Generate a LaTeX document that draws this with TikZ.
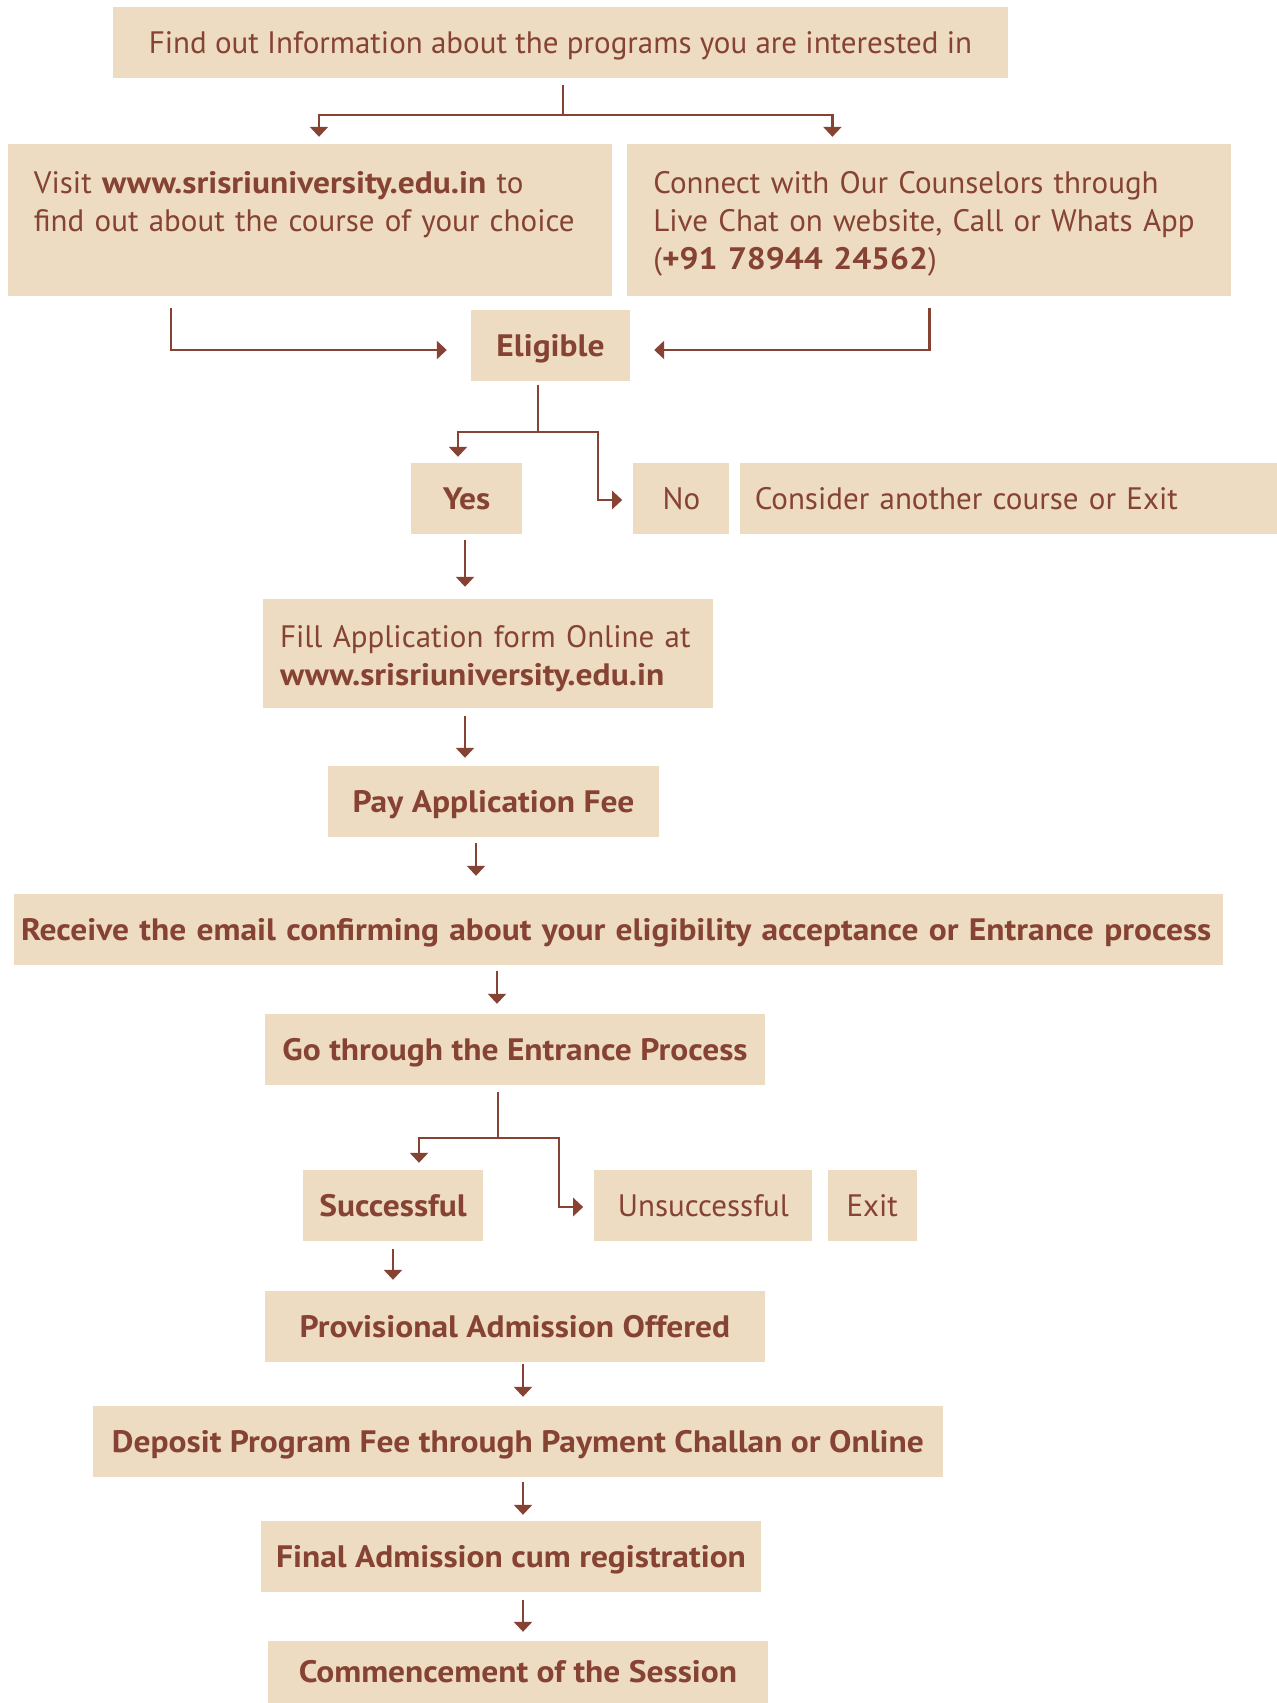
\documentclass[tikz,border=0pt]{standalone}
\usepackage{fontspec}
\setmainfont{PT Sans}[BoldFeatures={FakeStretch=1.08}]
\usepackage{xcolor}
\usetikzlibrary{arrows.meta,positioning}
\definecolor{boxfill}{HTML}{EDDCC2}
\definecolor{boxtext}{HTML}{864232}

\begin{document}
\begin{tikzpicture}[x=1pt,y=-1pt,
    box/.style={fill=boxfill,text=boxtext,inner sep=0pt,minimum height=71pt,
      text height=21.7pt,text depth=0pt,font=\fontsize{31}{38}\selectfont},
    bbox/.style={box,font=\fontsize{31}{38}\selectfont\bfseries},
    arr/.style={draw=boxtext,line width=2.5pt,-{Triangle[width=18pt,length=10pt]}},
  ]
  \useasboundingbox (0,0) rectangle (1277,1703);

  % boxes
  \node[box,minimum width=895pt] (top) at (560.5,42.5)
    {Find out Information about the programs you are interested in};
  \node[box,minimum width=604pt,minimum height=152pt,text width=552pt,
    inner xsep=26pt,align=left,text depth=75.7pt] (visit) at (310,220)
    {Visit \textbf{www.srisriuniversity.edu.in} to\\find out about the course of your choice};
  \node[box,minimum width=604pt,minimum height=152pt,text width=552pt,
    inner xsep=26pt,align=left,text depth=75.7pt,right=15pt of visit] (connect)
    {Connect with Our Counselors through\\Live Chat on website, Call or Whats App\\(\textbf{+91 78944 24562})};
  \node[bbox,minimum width=159pt] (elig) at (550.5,345.5) {Eligible};
  \node[bbox,minimum width=111pt] (yes) at (466.5,498.5) {Yes};
  \node[box,minimum width=96pt,right=111pt of yes] (no) {No};
  \node[box,minimum width=538pt,text width=508pt,inner xsep=15pt,align=left,
    right=10pt of no] (consider) {Consider another course or Exit};
  \node[box,minimum width=450pt,minimum height=109pt,text width=416pt,
    inner xsep=17pt,align=left,text depth=34.7pt] (fill) at (488,653.5)
    {Fill Application form Online at\\\textbf{www.srisriuniversity.edu.in}};
  \node[bbox,minimum width=331pt] (pay) at (493.5,801.5) {Pay Application Fee};
  \node[bbox,minimum width=1209pt,text width=1195pt,inner xsep=7pt,align=left] (receive)
    at (618.5,929.5) {Receive the email confirming about your eligibility acceptance or Entrance process};
  \node[bbox,minimum width=500pt] (go) at (515,1049.5) {Go through the Entrance Process};
  \node[bbox,minimum width=180pt] (succ) at (393,1205.5) {Successful};
  \node[box,minimum width=218pt,right=111pt of succ] (unsucc) {Unsuccessful};
  \node[box,minimum width=89pt,right=15pt of unsucc] (exit) {Exit};
  \node[bbox,minimum width=500pt] (prov) at (515,1326.5) {Provisional Admission Offered};
  \node[bbox,minimum width=850pt] (deposit) at (518,1441.5)
    {Deposit Program Fee through Payment Challan or Online};
  \node[bbox,minimum width=500pt] (final) at (511,1556.5) {Final Admission cum registration};
  \node[bbox,minimum width=500pt,minimum height=62pt] (comm) at (518,1672)
    {Commencement of the Session};

  % arrow columns and joints
  \coordinate (c1) at (465,0);
  \coordinate (c2) at (476,0);
  \coordinate (c3) at (497,0);
  \coordinate (c4) at (523,0);
  \coordinate (j1) at (563,115);
  \coordinate (j2) at (538,432);
  \coordinate (j3) at (598,432);
  \coordinate (j4) at (498,1138);
  \coordinate (j5) at (559,1138);

  % connectors
  \draw[arr,shorten <=7pt,shorten >=7pt] (top.south -| j1) -- (j1) -| ([xshift=9pt]visit.north);
  \draw[arr,shorten >=7pt] (j1) -| ([xshift=-97pt]connect.north);
  \draw[arr,shorten <=12pt,shorten >=24pt] ([xshift=-139pt]visit.south) |- ([yshift=-4.5pt]elig.west);
  \draw[arr,shorten <=12pt,shorten >=24pt] (connect.south) |- ([yshift=-4.5pt]elig.east);
  \draw[arr,shorten <=4pt,shorten >=6pt] (elig.south -| j2) -- (j2) -| ([xshift=-8.5pt]yes.north);
  \draw[arr,shorten >=11pt] (j2) -- (j3) |- ([yshift=-1.5pt]no.west);
  \draw[arr,shorten <=6pt,shorten >=12pt] (yes.south -| c1) -- (fill.north -| c1);
  \draw[arr,shorten <=8pt,shorten >=8pt] (fill.south -| c1) -- (pay.north -| c1);
  \draw[arr,shorten <=6pt,shorten >=18pt] (pay.south -| c2) -- (receive.north -| c2);
  \draw[arr,shorten <=6pt,shorten >=10pt] (receive.south -| c3) -- (go.north -| c3);
  \draw[arr,shorten <=7pt,shorten >=7pt] (go.south -| j4) -- (j4) -| ([xshift=26pt]succ.north);
  \draw[arr,shorten >=11pt] (j4) -- (j5) |- ([yshift=-1.5pt]unsucc.west);
  \draw[arr,shorten <=8pt,shorten >=11pt] (succ.south) -- (prov.north -| succ);
  \draw[arr,shorten <=2pt,shorten >=9pt] (prov.south -| c4) -- (deposit.north -| c4);
  \draw[arr,shorten <=5pt,shorten >=6pt] (deposit.south -| c4) -- (final.north -| c4);
  \draw[arr,shorten <=8pt,shorten >=9pt] (final.south -| c4) -- (comm.north -| c4);
\end{tikzpicture}
\end{document}
